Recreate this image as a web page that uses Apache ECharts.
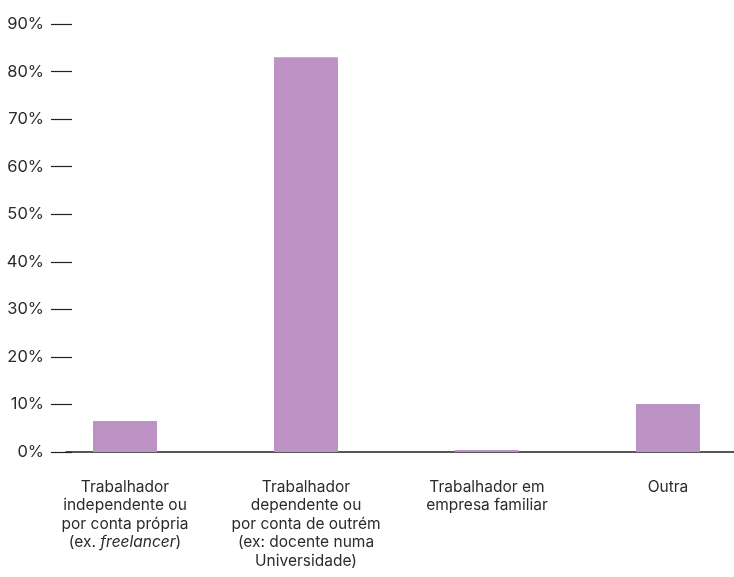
<!DOCTYPE html>
<html>
<head>
<meta charset="utf-8">
<script src="https://cdn.jsdelivr.net/npm/echarts@6/dist/echarts.min.js"></script>
<style>
  html, body { margin: 0; padding: 0; background: #fff; }
  #chart { width: 734px; height: 577px; }
</style>
</head>
<body>
<div id="chart"></div>
<script>
// Situação profissional dos inquiridos (% de respostas)
const categories = [
  'Trabalhador\nindependente ou\npor conta própria\n(ex. {i|freelancer})',
  'Trabalhador\ndependente ou\npor conta de outrém\n(ex: docente numa\nUniversidade)',
  'Trabalhador em\nempresa familiar',
  'Outra'
];
const values = [6.5, 83, 0.4, 10.1];
const yMax = 90;
const yStep = 10;

// category slots are laid out on a numeric axis (slot i sits at x = i);
// the visible span starts a little before the first slot and is cut by the right edge
const xMin = -0.326;
const xMax = 3.365;

const textColor = '#2b2b2b';
const fontFamily = 'Inter, "Noto Sans", sans-serif';

const slots = categories.map((_, i) => i);
const barData = values.map((v, i) => [i, v]);

const chart = echarts.init(document.getElementById('chart'), null, { renderer: 'canvas' });

chart.setOption({
  animation: false,
  backgroundColor: '#ffffff',
  grid: { left: 66, right: 0, top: 24, bottom: 125 },
  xAxis: {
    type: 'value',
    min: xMin,
    max: xMax,
    axisLine: { show: true, onZero: false, lineStyle: { color: '#222', width: 1.5 } },
    axisTick: { show: false },
    splitLine: { show: false },
    axisLabel: {
      customValues: slots,
      hideOverlap: false,
      margin: 26,
      color: textColor,
      fontFamily: fontFamily,
      fontSize: 15.5,
      lineHeight: 18.5,
      align: 'center',
      formatter: v => categories[Math.round(v)] || '',
      rich: {
        i: {
          fontStyle: 'italic',
          color: textColor,
          fontFamily: fontFamily,
          fontSize: 15.5,
          lineHeight: 18.5
        }
      }
    }
  },
  yAxis: {
    type: 'value',
    min: 0,
    max: yMax,
    interval: yStep,
    offset: -6,
    axisLine: { show: false, onZero: false },
    axisTick: { show: true, length: 21, lineStyle: { color: '#222', width: 1.2 } },
    splitLine: { show: false },
    axisLabel: {
      margin: 28,
      color: textColor,
      fontFamily: fontFamily,
      fontSize: 16.5,
      formatter: v => v + '%'
    }
  },
  series: [
    {
      type: 'bar',
      data: barData,
      barWidth: 64,
      itemStyle: { color: '#bd92c4' }
    }
  ]
});
</script>
</body>
</html>
